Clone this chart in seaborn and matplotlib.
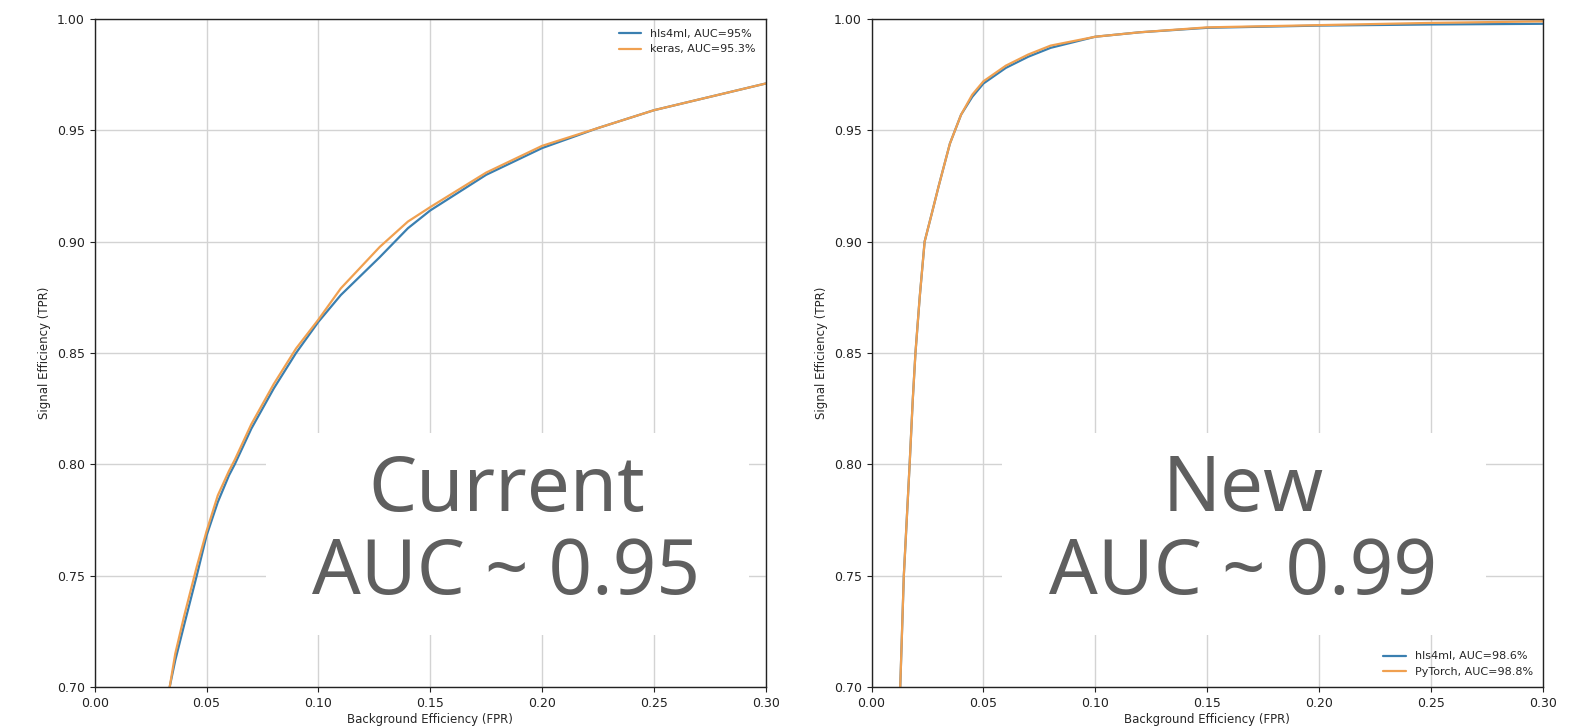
import pandas as pd
from matplotlib import pyplot as plt
from matplotlib.patches import Rectangle
import seaborn as sns

sns.set_theme(style="whitegrid", rc={"axes.edgecolor": "#222222", "grid.color": "#d3d3d3",
                                     "xtick.bottom": True, "ytick.left": True,
                                     "xtick.color": "#222222", "ytick.color": "#222222",
                                     "axes.linewidth": 1.0})
plt.rcParams['font.family'] = ['DejaVu Sans']

# current model (left)
fpr_cur = [0.0335, 0.036, 0.040, 0.0456, 0.050, 0.055, 0.060, 0.0626, 0.070, 0.080, 0.090,
           0.100, 0.110, 0.1274, 0.140, 0.150, 0.175, 0.200, 0.225, 0.250, 0.275, 0.300]
tpr_hls_cur = [0.700, 0.712, 0.728, 0.750, 0.768, 0.783, 0.795, 0.800, 0.816, 0.834, 0.850,
               0.864, 0.876, 0.893, 0.906, 0.914, 0.930, 0.942, 0.951, 0.959, 0.965, 0.971]
tpr_keras = [0.700, 0.715, 0.732, 0.754, 0.770, 0.786, 0.797, 0.802, 0.818, 0.836, 0.852,
             0.865, 0.879, 0.8976, 0.909, 0.9155, 0.931, 0.943, 0.951, 0.959, 0.965, 0.971]

# new model (right)
fpr_new = [0.0128, 0.0144, 0.017, 0.0184, 0.0196, 0.0215, 0.0237, 0.027, 0.030, 0.035, 0.040,
           0.045, 0.050, 0.060, 0.070, 0.080, 0.100, 0.120, 0.150, 0.200, 0.250, 0.300]
tpr_hls_new = [0.700, 0.750, 0.800, 0.829, 0.850, 0.875, 0.900, 0.913, 0.925, 0.944, 0.957,
               0.965, 0.971, 0.978, 0.983, 0.987, 0.992, 0.994, 0.996, 0.997, 0.9975, 0.9978]
tpr_torch = [0.700, 0.750, 0.800, 0.829, 0.850, 0.875, 0.900, 0.913, 0.925, 0.944, 0.957,
             0.966, 0.972, 0.979, 0.984, 0.988, 0.992, 0.994, 0.9962, 0.9972, 0.9982, 0.9989]

labels_cur = ["hls4ml, AUC=95%", "keras, AUC=95.3%"]
labels_new = ["hls4ml, AUC=98.6%", "PyTorch, AUC=98.8%"]

cur_df = pd.DataFrame({"fpr": fpr_cur * 2, "tpr": tpr_hls_cur + tpr_keras,
                       "model": [labels_cur[0]] * len(fpr_cur) + [labels_cur[1]] * len(fpr_cur)})
new_df = pd.DataFrame({"fpr": fpr_new * 2, "tpr": tpr_hls_new + tpr_torch,
                       "model": [labels_new[0]] * len(fpr_new) + [labels_new[1]] * len(fpr_new)})

blue = "#3a7fb0"
orange = "#f0a050"

fig = plt.figure(figsize=(15.79, 7.27), dpi=100)
ax1 = fig.add_axes([0.060, 0.055, 0.425, 0.919])
ax2 = fig.add_axes([0.552, 0.055, 0.425, 0.919])

panels = [(ax1, cur_df, labels_cur, "upper right", "Current\nAUC ~ 0.95", 0.184, 0.0765, 0.216),
          (ax2, new_df, labels_new, "lower right", "New\nAUC ~ 0.99", 0.166, 0.0582, 0.2163)]

for ax, df, labs, loc, big, tx, bx, bw in panels:
    sns.lineplot(data=df, x="fpr", y="tpr", hue="model", hue_order=labs,
                 palette=[blue, orange], sort=False, estimator=None, linewidth=1.6, ax=ax)
    ax.set_xlim(0, 0.3)
    ax.set_ylim(0.7, 1.0)
    ax.set_xticks([0, 0.05, 0.10, 0.15, 0.20, 0.25, 0.30])
    ax.set_yticks([0.70, 0.75, 0.80, 0.85, 0.90, 0.95, 1.00])
    ax.xaxis.set_major_formatter(plt.FormatStrFormatter("%.2f"))
    ax.yaxis.set_major_formatter(plt.FormatStrFormatter("%.2f"))
    ax.tick_params(labelsize=9, length=3.5, width=0.8)
    ax.set_xlabel("Background Efficiency (FPR)", fontsize=8.5, labelpad=2)
    ax.set_ylabel("Signal Efficiency (TPR)", fontsize=8.5)
    ax.legend(loc=loc, frameon=False, fontsize=8)
    ax.add_patch(Rectangle((bx, 0.7234), bw, 0.0906, facecolor="white", edgecolor="none", zorder=2.5))
    ax.text(tx, 0.7695, big, ha="center", va="center", fontsize=55, color="#5f5f5f",
            family=["Noto Sans", "DejaVu Sans"], linespacing=1.12, zorder=3)

fig.savefig("out.png", dpi=100)
